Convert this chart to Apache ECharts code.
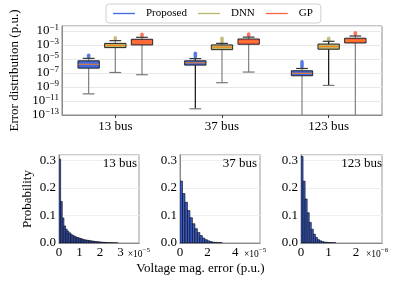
<!DOCTYPE html>
<html><head><meta charset="utf-8">
<script src="https://cdn.jsdelivr.net/npm/echarts@6/dist/echarts.min.js"></script>
<style>html,body{margin:0;padding:0;background:#fff}#c{width:401px;height:284px}</style>
</head><body><div id="c"></div>
<script>
// ---------- data ----------
const categories = ['13 bus', '37 bus', '123 bus'];
const methods = ['Proposed', 'DNN', 'GP'];
// per system: [lower whisker, Q1, median, Q3, upper whisker, largest outlier]  (p.u.)
const proposedBox = [
  [1.1e-10, 5.5e-7, 2.0e-6, 6.2e-6, 1.4e-5, 5.5e-5],
  [7.8e-13, 1.5e-6, 3.2e-6, 6.2e-6, 1.3e-5, 1.1e-4],
  [1.0e-14, 4.4e-8, 1.0e-7, 2.3e-7, 4.9e-7, 6.2e-6]
];
const dnnBox = [
  [1.3e-7, 4.9e-4, 1.0e-3, 2.0e-3, 4.9e-3, 1.8e-2],
  [4.4e-9, 2.5e-4, 5.6e-4, 1.2e-3, 2.0e-3, 1.5e-2],
  [1.8e-9, 2.9e-4, 7.1e-4, 1.6e-3, 4.0e-3, 1.5e-2]
];
const gpBox = [
  [6.2e-8, 1.2e-3, 3.2e-3, 7.8e-3, 1.5e-2, 5.5e-2],
  [1.5e-7, 1.5e-3, 3.5e-3, 8.5e-3, 1.6e-2, 6.2e-2],
  [1.0e-14, 2.3e-3, 5.0e-3, 1.1e-2, 2.3e-2, 9.3e-2]
];
// log axis range (decades)
const logFloor = -13, logCeil = -0.2, logStep = 2;

// histograms: probability per bin, bins start at 0
const hist13 = [0.305, 0.151, 0.091, 0.062, 0.050, 0.043, 0.037, 0.032, 0.028, 0.025, 0.022, 0.020, 0.018, 0.016, 0.014, 0.012, 0.011, 0.010, 0.009, 0.008, 0.007, 0.0062, 0.0055, 0.0048, 0.0042, 0.0036, 0.003, 0.0025, 0.002, 0.0016, 0.0013, 0.001, 0.0008, 0.0006, 0.0004, 0.0003];
const hist37 = [0.225, 0.180, 0.148, 0.118, 0.092, 0.070, 0.052, 0.038, 0.027, 0.018, 0.012, 0.008, 0.005, 0.003, 0.002, 0.0015, 0.001];
const hist123 = [0.315, 0.225, 0.160, 0.110, 0.075, 0.050, 0.032, 0.020, 0.012, 0.008, 0.005, 0.0035, 0.0025, 0.0018, 0.0012, 0.0008, 0.0005];
const binWidth13 = 0.08e-5, binWidth37 = 0.18e-5, binWidth123 = 0.075e-6;
const histTitles = ['13 bus', '37 bus', '123 bus'];
const histScaleExp = [-5, -5, -6];
const histXMax = [3.9, 5.8, 2.95];     // in units of 10^exp
const histXStep = [1, 2, 1];
const probMax = 0.32, probStep = 0.1;

// ---------- styles ----------
const FONT = 'Liberation Serif';
const methodColors = ['#4169e1', '#bdb76b', '#ff6347'];
const medianColor = '#ff7f0e';
const whiskerColors = [['#808080', '#808080', '#808080'], ['#111', '#808080', '#808080'], ['#808080', '#111', '#808080']];

const toAxis = v => Math.log10(v) - logFloor;
const boxSets = [proposedBox, dnnBox, gpBox];

function boxRenderer(mi) {
  return function (params, api) {
    const cat = api.value(0);
    const band = api.size([1, 0])[0];
    const cx = api.coord([cat, 0])[0] + (mi - 1) * band * 0.25;
    const w = band * 0.2;
    const y = k => api.coord([cat, api.value(k)])[1];
    const lo = y(1), q1 = y(2), med = y(3), q3 = y(4), hi = y(5), fl = y(6);
    const capW = w * 0.55;
    const color = methodColors[mi];
    const wc = whiskerColors[cat][mi];
    return {
      type: 'group', children: [
        { type: 'line', shape: { x1: cx, y1: q1, x2: cx, y2: lo }, style: { stroke: wc, lineWidth: 1.2 } },
        { type: 'line', shape: { x1: cx, y1: q3, x2: cx, y2: hi }, style: { stroke: wc, lineWidth: 1.2 } },
        { type: 'line', shape: { x1: cx, y1: hi - 1.5, x2: cx, y2: fl + 1 }, style: { stroke: color, lineWidth: 3.5, lineCap: 'round', opacity: 0.9 } },
        { type: 'rect', shape: { x: cx - w / 2, y: q3, width: w, height: q1 - q3 }, style: { fill: color, stroke: '#222', lineWidth: 1 } },
        { type: 'line', shape: { x1: cx - w / 2 + 0.5, y1: med, x2: cx + w / 2 - 0.5, y2: med }, style: { stroke: medianColor, lineWidth: 1 } },
        { type: 'line', shape: { x1: cx - capW / 2, y1: lo, x2: cx + capW / 2, y2: lo }, style: { stroke: '#777', lineWidth: 1.2 } },
        { type: 'line', shape: { x1: cx - capW / 2, y1: hi, x2: cx + capW / 2, y2: hi }, style: { stroke: '#333', lineWidth: 1.2 } }
      ]
    };
  };
}

function histRenderer(params, api) {
  const p0 = api.coord([api.value(0), api.value(2)]);
  const p1 = api.coord([api.value(1), 0]);
  return { type: 'rect', shape: { x: p0[0], y: p0[1], width: p1[0] - p0[0], height: p1[1] - p0[1] },
    style: { fill: '#3a5cc8', stroke: '#000', lineWidth: 0.6 } };
}

const histSets = [hist13, hist37, hist123];
const binWidths = [binWidth13, binWidth37, binWidth123];

const gridsLayout = [
  { left: 59, top: 26, width: 323, height: 89 },
  { left: 59, top: 155, width: 80, height: 88 },
  { left: 180, top: 155, width: 80, height: 88 },
  { left: 301, top: 155, width: 81, height: 88 }
];

const supRich = {
  b: { fontFamily: FONT, fontSize: 13, color: '#000', lineHeight: 12, verticalAlign: 'bottom' },
  s: { fontFamily: FONT, fontSize: 9, color: '#000', lineHeight: 7, verticalAlign: 'bottom', padding: [0, 0, 5, 0] }
};
const offRich = {
  b: { fontFamily: FONT, fontSize: 9.5, color: '#000', lineHeight: 11, verticalAlign: 'bottom' },
  s: { fontFamily: FONT, fontSize: 7, color: '#000', lineHeight: 7, verticalAlign: 'bottom', padding: [0, 0, 5, 0] }
};
const minus = n => (n < 0 ? '\u2212' : '') + Math.abs(n);

const grid = [
  Object.assign({ show: true, borderColor: '#8c8c8c', borderWidth: 1 }, gridsLayout[0]),
  ...[1, 2, 3].map(i => Object.assign({ show: true, borderColor: '#bcbcbc', borderWidth: 1.5 }, gridsLayout[i]))
];

const xAxis = [{
  gridIndex: 0, type: 'category', data: categories, boundaryGap: true,
  axisLine: { lineStyle: { color: '#8c8c8c' } },
  axisTick: { show: true, alignWithLabel: true, length: 3, lineStyle: { color: '#333' } },
  axisLabel: { fontFamily: FONT, fontSize: 13, color: '#000', margin: 5 },
  splitLine: { show: false }
}];
const yAxis = [{
  gridIndex: 0, type: 'value', min: 0, max: logCeil - logFloor, interval: logStep,
  name: 'Error distribution (p.u.)', nameLocation: 'middle', nameGap: 37,
  nameTextStyle: { fontFamily: FONT, fontSize: 13, color: '#000' },
  axisLine: { show: true, lineStyle: { color: '#8c8c8c' } }, axisTick: { show: false },
  axisLabel: {
    margin: 3, rich: supRich, showMinLabel: true, showMaxLabel: false, hideOverlap: false,
    formatter: v => Math.abs(v / logStep - Math.round(v / logStep)) > 1e-6 ? '' : '{b|10}{s|' + minus(Math.round(v + logFloor)) + '}'
  },
  splitLine: { show: true, lineStyle: { color: '#e8e8e8', width: 1 } }
}];
[0, 1, 2].forEach(i => {
  const step = histXStep[i];
  xAxis.push({
    gridIndex: i + 1, type: 'value', min: 0, max: histXMax[i], interval: step,
    axisLine: { show: true, onZero: false, lineStyle: { color: '#888' } }, axisTick: { show: false },
    axisLabel: { fontFamily: FONT, fontSize: 13, color: '#000', margin: 3, showMinLabel: true, showMaxLabel: false,
      formatter: v => Math.abs(v / step - Math.round(v / step)) > 1e-6 ? '' : String(Math.round(v)) },
    splitLine: { show: false },
    name: '{b|\u00d710}{s|' + minus(histScaleExp[i]) + '}', nameLocation: 'end', nameGap: -16,
    nameTextStyle: { rich: offRich, verticalAlign: 'top', padding: [5, 0, 0, 0] }
  });
  yAxis.push({
    gridIndex: i + 1, type: 'value', min: 0, max: probMax, interval: probStep,
    name: i === 0 ? 'Probability' : '', nameLocation: 'middle', nameGap: 25,
    nameTextStyle: { fontFamily: FONT, fontSize: 13, color: '#000' },
    axisLine: { show: true, lineStyle: { color: '#888' } }, axisTick: { show: false },
    axisLabel: { fontFamily: FONT, fontSize: 13, color: '#000', margin: 3, showMinLabel: true, showMaxLabel: false,
      formatter: v => Math.abs(v / probStep - Math.round(v / probStep)) > 1e-6 ? '' : v.toFixed(1) },
    splitLine: { show: true, lineStyle: { color: '#eeeeee' } }
  });
});

const series = [];
methods.forEach((m, mi) => {
  series.push({ name: m, type: 'line', data: [], symbol: 'none', xAxisIndex: 0, yAxisIndex: 0,
    color: methodColors[mi], lineStyle: { width: 1.2, color: methodColors[mi] } });
});
methods.forEach((m, mi) => {
  series.push({
    type: 'custom', xAxisIndex: 0, yAxisIndex: 0, clip: true, silent: true,
    renderItem: boxRenderer(mi),
    encode: { x: 0, y: [1, 2, 3, 4, 5, 6] },
    data: boxSets[mi].map((r, ci) => [ci, ...r.map(toAxis)])
  });
});
histSets.forEach((h, i) => {
  const s = Math.pow(10, histScaleExp[i]);
  series.push({
    type: 'custom', xAxisIndex: i + 1, yAxisIndex: i + 1, clip: true, silent: true,
    renderItem: histRenderer, encode: { x: [0, 1], y: 2 },
    data: h.map((p, k) => [k * binWidths[i] / s, (k + 1) * binWidths[i] / s, p])
  });
});

const title = histTitles.map((t, i) => ({
  text: t, right: [264, 144, 19][i], top: 157, padding: 0,
  textStyle: { fontFamily: FONT, fontSize: 13, fontWeight: 'normal', color: '#000' }
}));

const chart = echarts.init(document.getElementById('c'), null, { renderer: 'canvas' });
chart.setOption({
  animation: false, backgroundColor: '#fff',
  title,
  legend: {
    data: methods.map((m, mi) => ({ name: m, icon: 'rect', itemStyle: { color: methodColors[mi], borderWidth: 0 } })),
    left: 106, top: 4, orient: 'horizontal',
    padding: [4, 8, 4, 7], itemWidth: 22, itemHeight: 1.3, itemGap: 11,
    borderColor: '#d0d0d0', borderWidth: 1, borderRadius: 3,
    textStyle: { fontFamily: FONT, fontSize: 11, color: '#000', padding: [0, 0, 0, 6] }
  },
  grid, xAxis, yAxis, series,
  graphic: [{ type: 'text', left: 'center', top: 262,
    style: { text: 'Voltage mag. error (p.u.)', font: '13px "Liberation Serif"', fill: '#000', x: 22 } }]
});
</script></body></html>
